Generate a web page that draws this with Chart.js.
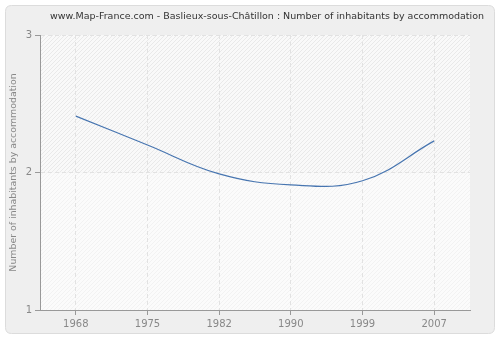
<!DOCTYPE html>
<html>
<head>
<meta charset="utf-8">
<script src="https://cdn.jsdelivr.net/npm/chart.js@4"></script>
<style>
	html, body { margin: 0; padding: 0; background: #fff; }
	#wrap { width: 500px; height: 340px; position: relative; }
</style>
</head>
<body>
<div id="wrap"><canvas id="chart" width="500" height="340"></canvas></div>
<script>
	var years = ['1968', '1975', '1982', '1990', '1999', '2007'];
	var inhabitants = [2.41, 2.2, 1.99, 1.91, 1.94, 2.23];
	var yTicks = [1, 2, 3];
	var titleText = 'www.Map-France.com - Baslieux-sous-Châtillon : Number of inhabitants by accommodation';
	var yTitle = 'Number of inhabitants by accommodation';

	var FONT = '"DejaVu Sans", Verdana, sans-serif';

	function hatch(bg, stroke) {
		var c = document.createElement('canvas');
		c.width = 4; c.height = 4;
		var x = c.getContext('2d');
		x.fillStyle = bg;
		x.fillRect(0, 0, 4, 4);
		x.strokeStyle = stroke;
		x.lineWidth = 1;
		x.beginPath();
		x.moveTo(0, 4); x.lineTo(4, 0);
		x.moveTo(-1, 1); x.lineTo(1, -1);
		x.moveTo(3, 5); x.lineTo(5, 3);
		x.stroke();
		return x.createPattern(c, 'repeat');
	}

	function roundRect(ctx, x, y, w, h, r) {
		ctx.beginPath();
		ctx.moveTo(x + r, y);
		ctx.lineTo(x + w - r, y);
		ctx.quadraticCurveTo(x + w, y, x + w, y + r);
		ctx.lineTo(x + w, y + h - r);
		ctx.quadraticCurveTo(x + w, y + h, x + w - r, y + h);
		ctx.lineTo(x + r, y + h);
		ctx.quadraticCurveTo(x, y + h, x, y + h - r);
		ctx.lineTo(x, y + r);
		ctx.quadraticCurveTo(x, y, x + r, y);
		ctx.closePath();
	}

	// panel, plot background and title
	var backdrop = {
		id: 'backdrop',
		beforeDraw: function(chart) {
			var ctx = chart.ctx;
			var a = chart.chartArea;
			ctx.save();
			roundRect(ctx, 5.5, 5.5, 489, 328, 6);
			ctx.fillStyle = '#efefef';
			ctx.fill();
			ctx.strokeStyle = '#dcdcdc';
			ctx.lineWidth = 1;
			ctx.stroke();

			var mid = chart.scales.y.getPixelForValue(2);
			ctx.fillStyle = hatch('#f9f9f9', '#e9e9e9');
			ctx.fillRect(a.left, a.top, a.right - a.left, mid - a.top);
			ctx.fillStyle = hatch('#fbfbfb', '#f2f2f2');
			ctx.fillRect(a.left, mid, a.right - a.left, a.bottom - mid);

			ctx.fillStyle = '#333';
			ctx.font = '9.5px ' + FONT;
			ctx.textAlign = 'center';
			ctx.textBaseline = 'middle';
			ctx.fillText(titleText, 267, 17);
			ctx.restore();
		}
	};

	new Chart(document.getElementById('chart'), {
		type: 'line',
		data: {
			labels: years,
			datasets: [{
				data: inhabitants,
				borderColor: '#4775b0',
				borderWidth: 1.2,
				pointRadius: 0,
				fill: false,
				tension: 0.4
			}]
		},
		plugins: [backdrop],
		options: {
			responsive: false,
			animation: false,
			devicePixelRatio: 1,
			layout: { padding: { left: 0, right: 30, top: 35, bottom: 0 } },
			plugins: { legend: { display: false }, tooltip: { enabled: false } },
			scales: {
				x: {
					offset: true,
					afterFit: function(s) { s.height = 30; },
					grid: {
						color: '#e2e2e2',
						tickColor: '#999',
						tickLength: 5,
						offset: false
					},
					border: { color: '#999', dash: [4, 3], width: 1 },
					ticks: { color: '#888', font: { family: FONT, size: 10 }, padding: 3 }
				},
				y: {
					min: 1,
					max: 3,
					afterFit: function(s) { s.width = 40; },
					afterBuildTicks: function(s) { s.ticks = yTicks.map(function(v) { return { value: v }; }); },
					grid: { color: '#e2e2e2', tickColor: '#999', tickLength: 5 },
					border: { color: '#999', dash: [4, 3], width: 1 },
					ticks: { color: '#888', font: { family: FONT, size: 10 }, padding: 3 },
					title: {
						display: true,
						text: yTitle,
						color: '#888',
						font: { family: FONT, size: 9.4 },
						padding: { top: 8, bottom: 2 }
					}
				}
			}
		}
	});
</script>
</body>
</html>
